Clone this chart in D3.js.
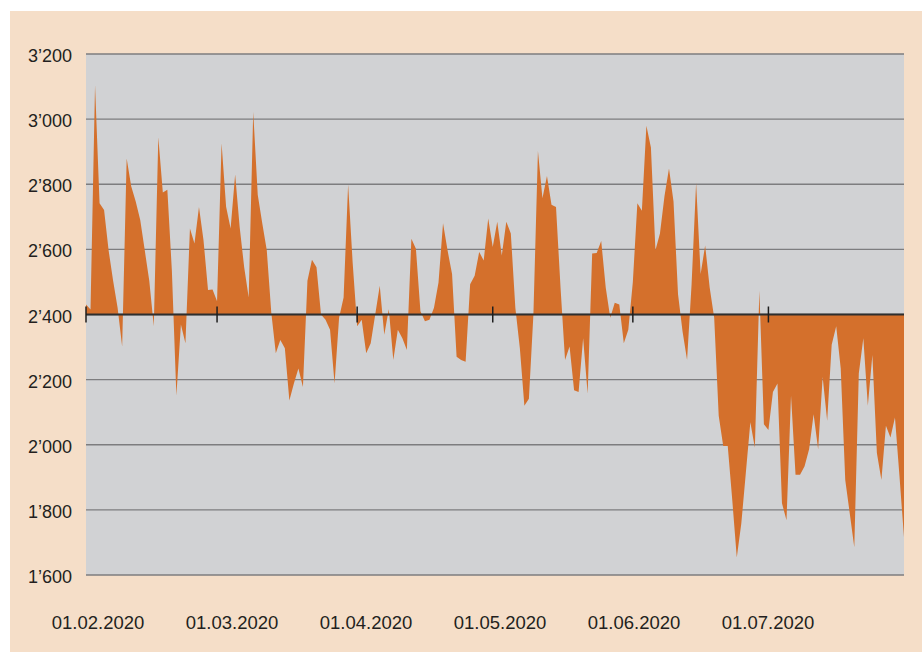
<!DOCTYPE html>
<html>
<head>
<meta charset="utf-8">
<script src="https://d3js.org/d3.v7.min.js"></script>
<style>
  body { margin: 0; background: #fff; }
  svg { display: block; }
  text { font-family: "Liberation Sans", Arial, sans-serif; fill: #231f20; }
</style>
</head>
<body>
<div id="chart"></div>
<script>
// Daily values, 01.02.2020 - 31.07.2020
const febValues = [2431, 2415, 3104, 2742, 2721, 2597, 2504, 2420, 2302, 2879, 2794, 2747, 2690, 2597, 2504,
  2364, 2944, 2775, 2783, 2535, 2151, 2369, 2312, 2664, 2618, 2730, 2628, 2475, 2477];
const marValues = [2441, 2926, 2731, 2664, 2830, 2669, 2545, 2452, 3022, 2768, 2680, 2597, 2405, 2281, 2322,
  2296, 2136, 2188, 2234, 2177, 2504, 2568, 2545, 2400, 2384, 2353, 2188, 2390, 2452, 2799, 2560];
const aprValues = [2364, 2384, 2281, 2312, 2400, 2488, 2338, 2416, 2260, 2353, 2327, 2291, 2633, 2602, 2410,
  2379, 2384, 2421, 2498, 2680, 2597, 2524, 2270, 2260, 2255, 2493, 2519, 2592, 2566, 2695];
const mayValues = [2607, 2685, 2581, 2685, 2649, 2421, 2296, 2120, 2141, 2400, 2902, 2757, 2825, 2737, 2730,
  2483, 2260, 2302, 2167, 2162, 2327, 2157, 2587, 2589, 2626, 2483, 2390, 2436, 2431, 2312, 2353];
const junValues = [2500, 2742, 2719, 2980, 2913, 2597, 2649, 2763, 2848, 2747, 2462, 2348, 2260, 2493, 2804,
  2524, 2612, 2483, 2390, 2089, 1996, 1996, 1830, 1654, 1758, 1913, 2069, 1991, 2473, 2063];
const julValues = [2045, 2162, 2188, 1820, 1768, 2151, 1908, 1908, 1934, 1986, 2094, 1986, 2208, 2074, 2307,
  2364, 2234, 1892, 1789, 1685, 2219, 2327, 2120, 2276, 1975, 1892, 2058, 2022, 2084, 1903, 1716];

const startDate = new Date(2020, 1, 1);
const endDate = new Date(2020, 6, 31);
const baseValue = 2400;
const yTicks = [1600, 1800, 2000, 2200, 2400, 2600, 2800, 3000, 3200];
const xTickLabels = ["01.02.2020", "01.03.2020", "01.04.2020", "01.05.2020", "01.06.2020", "01.07.2020"];

const values = [].concat(febValues, marValues, aprValues, mayValues, junValues, julValues);
const data = values.map((v, i) => ({ date: d3.timeDay.offset(startDate, i), value: v }));

const width = 922, height = 652;
const plot = { left: 86, right: 904, top: 54, bottom: 575 };

const svg = d3.select("#chart").append("svg")
  .attr("width", width)
  .attr("height", height);

// Backgrounds
svg.append("rect")
  .attr("x", 10).attr("y", 11)
  .attr("width", width - 10).attr("height", height - 11)
  .attr("fill", "#f5dec8");

svg.append("rect")
  .attr("x", plot.left).attr("y", plot.top)
  .attr("width", plot.right - plot.left).attr("height", plot.bottom - plot.top)
  .attr("fill", "#d1d2d4");

const x = d3.scaleTime().domain([startDate, endDate]).range([plot.left, plot.right]);
const y = d3.scaleLinear().domain([1600, 3200]).range([plot.bottom, plot.top]);

// Gridlines
svg.append("g")
  .selectAll("line")
  .data(yTicks)
  .join("line")
  .attr("x1", plot.left).attr("x2", plot.right)
  .attr("y1", (d) => y(d)).attr("y2", (d) => y(d))
  .attr("stroke", "#7d7d7f")
  .attr("stroke-width", 1.3);

// Area between series and base value
const area = d3.area()
  .x((d) => x(d.date))
  .y0(y(baseValue))
  .y1((d) => y(d.value));

svg.append("path")
  .datum(data)
  .attr("d", area)
  .attr("fill", "#d4702c");

// Base line with month ticks
svg.append("line")
  .attr("x1", plot.left).attr("x2", plot.right)
  .attr("y1", y(baseValue)).attr("y2", y(baseValue))
  .attr("stroke", "#2e2e2e")
  .attr("stroke-width", 2);

svg.append("g")
  .selectAll("line")
  .data(d3.timeMonth.range(startDate, endDate))
  .join("line")
  .attr("x1", (d) => x(d)).attr("x2", (d) => x(d))
  .attr("y1", y(baseValue) - 8).attr("y2", y(baseValue) + 8)
  .attr("stroke", "#1e1e1e")
  .attr("stroke-width", 1.5);

// Y labels
svg.append("g")
  .selectAll("text")
  .data(yTicks)
  .join("text")
  .attr("x", 72)
  .attr("y", (d) => y(d) + 8)
  .attr("text-anchor", "end")
  .attr("font-size", 18)
  .text((d) => d3.format(",")(d).replace(",", "\u2019"));

// X labels (evenly spaced under the plot)
const xl = d3.scalePoint().domain(xTickLabels).range([98, 768]);
svg.append("g")
  .selectAll("text")
  .data(xTickLabels)
  .join("text")
  .attr("x", (d) => xl(d))
  .attr("y", 629)
  .attr("text-anchor", "middle")
  .attr("font-size", 18.5)
  .text((d) => d);
</script>
</body>
</html>
